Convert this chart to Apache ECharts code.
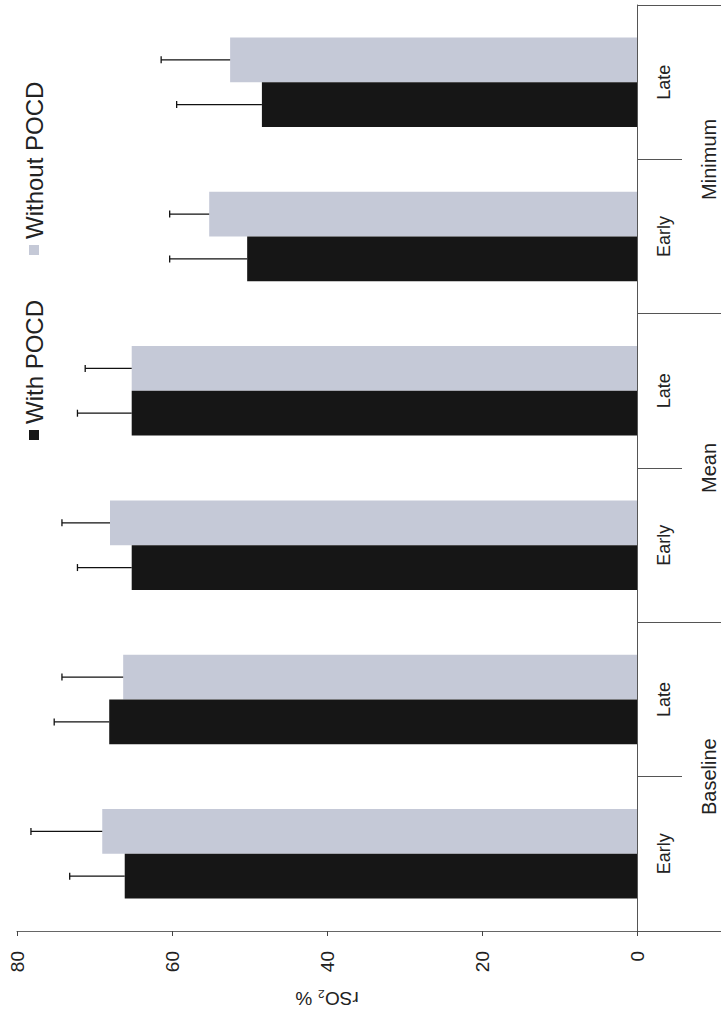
<!DOCTYPE html>
<html>
<head>
<meta charset="utf-8">
<script src="https://cdn.jsdelivr.net/npm/echarts@6/dist/echarts.min.js"></script>
<style>
  html, body { margin: 0; padding: 0; background: #fff; }
  #main { width: 721px; height: 1016px; }
</style>
</head>
<body>
<div id="main"></div>
<script>
// categories, bottom to top
const phases = ['Early', 'Late', 'Early', 'Late', 'Early', 'Late'];
const groups = ['Baseline', 'Mean', 'Minimum'];

// rSO2 % means and SD
const withPocd = [66.1, 68.1, 65.2, 65.2, 50.3, 48.4];
const withPocdSd = [7.1, 7.1, 7.0, 7.0, 10.0, 11.0];
const withoutPocd = [69.0, 66.3, 68.0, 65.2, 55.2, 52.5];
const withoutPocdSd = [9.2, 7.9, 6.2, 6.0, 5.1, 8.9];

const font = 'Liberation Sans, Arial, sans-serif';
const black = '#161616';
const grey = '#c5c9d7';
const catGap = 0.42;

// error bar on the high side, shifted to sit on its bar
function errorBars(values, sds, side) {
    return {
        type: 'custom',
        yAxisIndex: 0,
        z: 5,
        silent: true,
        data: values.map((v, i) => [i, v, v + sds[i]]),
        encode: { x: [1, 2], y: 0 },
        renderItem: function (params, api) {
            const band = api.size([0, 1])[1];
            const barW = band * (1 - catGap) / 2;
            const start = api.coord([api.value(1), api.value(0)]);
            const end = api.coord([api.value(2), api.value(0)]);
            const y = start[1] + side * barW / 2;
            const cap = 3.5;
            const st = { stroke: '#111', lineWidth: 1.3 };
            return {
                type: 'group',
                children: [
                    { type: 'line', shape: { x1: start[0], y1: y, x2: end[0], y2: y }, style: st },
                    { type: 'line', shape: { x1: end[0], y1: y - cap, x2: end[0], y2: y + cap }, style: st }
                ]
            };
        }
    };
}

function legendItem(x, y, color, label) {
    return {
        type: 'group',
        x: x,
        y: y,
        rotation: Math.PI / 2,
        children: [
            { type: 'rect', shape: { x: 0, y: -5, width: 10, height: 10 }, style: { fill: color } },
            {
                type: 'text', x: 16, y: 0,
                style: {
                    text: label, fontSize: 24, fontFamily: font, fill: '#222',
                    align: 'left', verticalAlign: 'middle',
                    textAlign: 'left', textVerticalAlign: 'middle'
                }
            }
        ]
    };
}

const chart = echarts.init(document.getElementById('main'), null, { renderer: 'svg' });

chart.setOption({
    backgroundColor: '#fff',
    animation: false,
    textStyle: { fontFamily: font },
    grid: { left: 17, right: 84, top: 5, bottom: 85, outerBoundsMode: 'none' },
    xAxis: {
        type: 'value',
        min: 0,
        max: 80,
        interval: 20,
        inverse: true,
        name: 'rSO₂ %',
        nameLocation: 'middle',
        nameRotate: 180,
        nameGap: 58,
        nameTextStyle: { fontSize: 19, color: '#222', fontFamily: font },
        axisLine: { show: true, lineStyle: { color: '#666', width: 1 } },
        axisTick: { show: true, length: 5, lineStyle: { color: '#444' } },
        axisLabel: { rotate: 90, margin: 20, fontSize: 19, color: '#222', fontFamily: font },
        splitLine: { show: false }
    },
    yAxis: [
        {
            type: 'category',
            data: phases,
            position: 'right',
            axisLine: { show: true, lineStyle: { color: '#555', width: 1 } },
            axisTick: { show: true, length: 45, lineStyle: { color: '#555' } },
            axisLabel: { rotate: 90, margin: 18, fontSize: 18, color: '#222', fontFamily: font }
        },
        {
            type: 'category',
            data: groups,
            position: 'right',
            axisLine: { show: false },
            axisTick: { show: true, length: 86, lineStyle: { color: '#555' } },
            axisLabel: { rotate: 90, margin: 62, fontSize: 20, color: '#222', fontFamily: font }
        }
    ],
    graphic: [
        legendItem(34, 440, black, 'With POCD'),
        legendItem(34, 255, grey, 'Without POCD')
    ],
    series: [
        {
            name: 'Without POCD',
            type: 'bar',
            yAxisIndex: 0,
            data: withoutPocd,
            barGap: '0%',
            barCategoryGap: (catGap * 100) + '%',
            itemStyle: { color: grey }
        },
        {
            name: 'With POCD',
            type: 'bar',
            yAxisIndex: 0,
            data: withPocd,
            barGap: '0%',
            barCategoryGap: (catGap * 100) + '%',
            itemStyle: { color: black }
        },
        errorBars(withoutPocd, withoutPocdSd, -1),
        errorBars(withPocd, withPocdSd, 1)
    ]
});
</script>
</body>
</html>
